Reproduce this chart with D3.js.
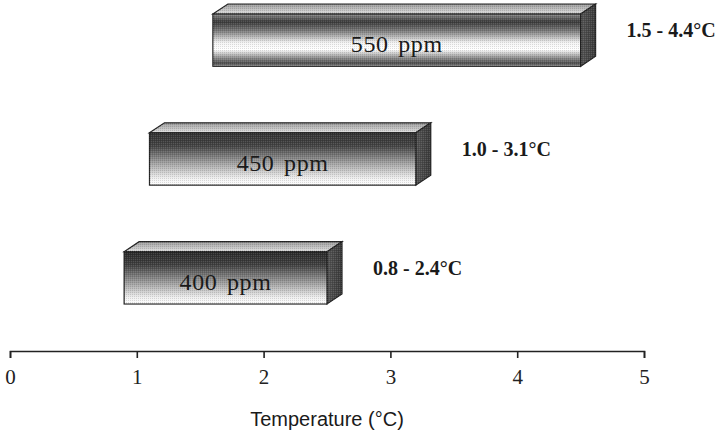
<!DOCTYPE html>
<html>
<head>
<meta charset="utf-8">
<script src="https://cdn.jsdelivr.net/npm/d3@7"></script>
<style>
  body { margin: 0; background: #fff; }
  svg { display: block; }
</style>
</head>
<body>
<div id="chart"></div>
<script>
// CO2 stabilisation level vs. warming range
const categories = ["550 ppm", "450 ppm", "400 ppm"];
const barStart = [1.6, 1.1, 0.9];   // where each bar's front face starts
const barEnd = [4.5, 3.2, 2.5];     // where it ends
const rangeLow = [1.5, 1.0, 0.8];
const rangeHigh = [4.4, 3.1, 2.4];
const tickValues = [0, 1, 2, 3, 4, 5];

const data = categories.map((c, i) => ({
    cat: c, start: barStart[i], end: barEnd[i], lo: rangeLow[i], hi: rangeHigh[i], idx: i
}));

const W = 727, H = 431;
const axisY = 351;
const depthX = 15, depthY = 10;

const svg = d3.select("#chart").append("svg")
    .attr("width", W)
    .attr("height", H);

const x = d3.scaleLinear().domain([0, 5]).range([10, 644]);
const y = d3.scaleBand().domain(categories).range([14, 304])
    .paddingInner(0.56).paddingOuter(0);

const defs = svg.append("defs");

// halftone-ish dither
const pat = defs.append("pattern")
    .attr("id", "dither")
    .attr("width", 2).attr("height", 2)
    .attr("patternUnits", "userSpaceOnUse");
pat.append("rect").attr("width", 1).attr("height", 1).attr("fill", "#000");
pat.append("rect").attr("x", 1).attr("y", 1).attr("width", 1).attr("height", 1).attr("fill", "#fff");

function grad(id, stops, vertical = true) {
    const g = defs.append("linearGradient").attr("id", id)
        .attr("x1", 0).attr("y1", 0)
        .attr("x2", vertical ? 0 : 1).attr("y2", vertical ? 1 : 0);
    stops.forEach(s => g.append("stop").attr("offset", s[0]).attr("stop-color", s[1]));
}

// tube-like front for 550, fading fronts for the others
grad("front0", [[0, "#8a8a8a"], [0.15, "#3a3a3a"], [0.32, "#7a7a7a"], [0.55, "#f4f4f4"], [0.68, "#ffffff"], [0.84, "#8c8c8c"], [0.95, "#4a4a4a"], [1, "#bdbdbd"]]);
grad("front1", [[0, "#333"], [0.25, "#444"], [0.6, "#a8a8a8"], [0.88, "#f2f2f2"], [1, "#ffffff"]]);
grad("front2", [[0, "#2a2a2a"], [0.25, "#404040"], [0.6, "#a0a0a0"], [0.88, "#f0f0f0"], [1, "#ffffff"]]);
grad("top", [[0, "#9a9a9a"], [0.6, "#c4c4c4"], [1, "#e2e2e2"]]);
grad("side", [[0, "#555"], [1, "#3a3a3a"]], false);

const bars = svg.selectAll(".bar")
    .data(data)
    .enter().append("g")
    .attr("class", "bar");

// top face
bars.append("path")
    .attr("d", d => {
        const x0 = x(d.start), x1 = x(d.end), t = y(d.cat);
        return `M${x0},${t}L${x0 + depthX},${t - depthY}L${x1 + depthX},${t - depthY}L${x1},${t}Z`;
    })
    .attr("fill", "url(#top)")
    .attr("stroke", "#222").attr("stroke-width", 1.2);

// right side face
bars.append("path")
    .attr("d", d => {
        const x1 = x(d.end), t = y(d.cat), b = t + y.bandwidth();
        return `M${x1},${t}L${x1 + depthX},${t - depthY}L${x1 + depthX},${b - depthY}L${x1},${b}Z`;
    })
    .attr("fill", "url(#side)")
    .attr("stroke", "#222").attr("stroke-width", 1.2);

// front face
bars.append("rect")
    .attr("x", d => x(d.start))
    .attr("y", d => y(d.cat))
    .attr("width", d => x(d.end) - x(d.start))
    .attr("height", y.bandwidth())
    .attr("fill", d => `url(#front${d.idx})`)
    .attr("stroke", "#222").attr("stroke-width", 1.2);

// dither overlay on all faces
bars.append("path")
    .attr("d", d => {
        const x0 = x(d.start), x1 = x(d.end), t = y(d.cat), b = t + y.bandwidth();
        return `M${x0},${t}L${x0 + depthX},${t - depthY}L${x1 + depthX},${t - depthY}L${x1 + depthX},${b - depthY}L${x1},${b}L${x0},${b}Z`;
    })
    .attr("fill", "url(#dither)")
    .attr("opacity", 0.12);

// label inside the bar
bars.append("text")
    .attr("x", d => (x(d.start) + x(d.end)) / 2)
    .attr("y", d => y(d.cat) + y.bandwidth() / 2 + 12)
    .attr("text-anchor", "middle")
    .style("font-family", "'Liberation Serif', 'Times New Roman', serif")
    .style("font-size", "24px")
    .style("letter-spacing", "0.6px")
    .style("word-spacing", "3px")
    .attr("fill", "#1a1a1a")
    .text(d => d.cat);

// warming range to the right
bars.append("text")
    .attr("x", d => x(d.end) + depthX + 31)
    .attr("y", d => y(d.cat) + y.bandwidth() / 2 - 3)
    .style("font-family", "'Liberation Serif', 'Times New Roman', serif")
    .style("font-size", "20px")
    .style("font-weight", "bold")
    .attr("fill", "#1a1a1a")
    .text(d => `${d.lo.toFixed(1)} - ${d.hi.toFixed(1)}°C`);

// x axis
const axis = svg.append("g")
    .attr("transform", `translate(0,${axisY})`)
    .call(d3.axisBottom(x).tickValues(tickValues).tickFormat(d3.format("d"))
        .tickSize(7).tickPadding(11));
axis.select(".domain").attr("stroke", "#222").attr("stroke-width", 1.6);
axis.selectAll(".tick line").attr("stroke", "#222").attr("stroke-width", 1.6);
axis.selectAll(".tick text")
    .style("font-family", "'Liberation Serif', 'Times New Roman', serif")
    .style("font-size", "21px")
    .attr("fill", "#222");

// axis title
svg.append("text")
    .attr("x", x(2.5))
    .attr("y", 426)
    .attr("text-anchor", "middle")
    .style("font-family", "'Liberation Sans', Arial, sans-serif")
    .style("font-size", "20px")
    .attr("fill", "#1a1a1a")
    .text("Temperature (°C)");
</script>
</body>
</html>
